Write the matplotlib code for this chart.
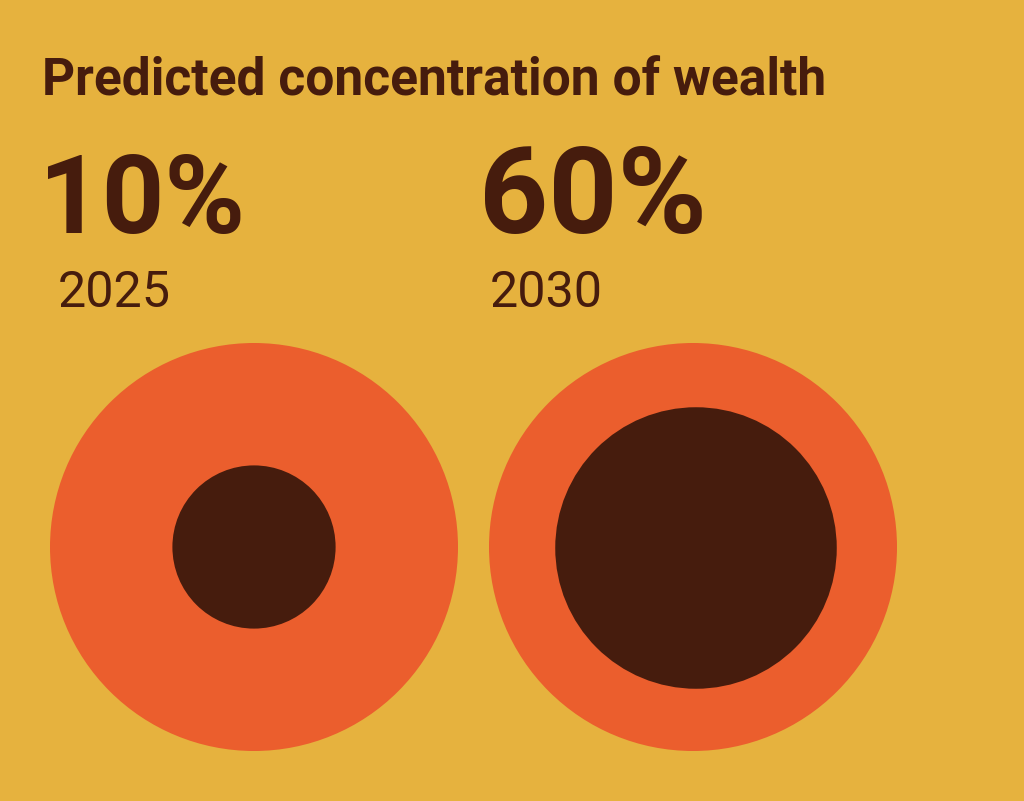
import numpy as np
import matplotlib
matplotlib.use("Agg")
import matplotlib.pyplot as plt
from matplotlib.patches import Circle

# data
years = ["2025", "2030"]
shares = [10, 60]              # % of wealth, as printed
inner_ratio = [0.40, 0.69]     # inner disc radius / outer radius
title = "Predicted concentration of wealth"

bg = "#E6B23E"
orange = "#EB5E2D"
brown = "#461C0D"

W, H = 1024, 801
fig = plt.figure(figsize=(W / 100, H / 100), dpi=100, facecolor=bg)
ax = fig.add_axes([0, 0, 1, 1])
ax.set_xlim(0, W)
ax.set_ylim(H, 0)
ax.set_aspect("equal")
ax.axis("off")
ax.set_facecolor(bg)

bold_fam = ["Roboto", "DejaVu Sans"]
reg_fam = ["Roboto", "DejaVu Sans"]

renderer = fig.canvas.get_renderer()

def fit_text(x, y, s, target_w, size, **kw):
    # scale font so the string spans target_w pixels
    t = ax.text(x, y, s, fontsize=size, va="baseline", ha="left", color=brown, **kw)
    w = t.get_window_extent(renderer).width
    t.set_fontsize(size * target_w / w)
    return t

fit_text(42, 95, title, 784, 34, family=bold_fam, fontweight="bold")

outer_r = 204
col_x = [42, 482]
for i, (yr, sh, ir) in enumerate(zip(years, shares, inner_ratio)):
    x0 = col_x[i]
    fit_text(x0 - 3, 233, f"{sh}%", 206 if i == 0 else 228, 80,
             family=bold_fam, fontweight="bold")
    fit_text(x0 + 16 if i == 0 else x0 + 8, 307, yr, 113, 36, family=reg_fam)
    cx = 254 + i * 439
    cy = 547
    ax.add_patch(Circle((cx, cy), outer_r, color=orange, lw=0))
    ax.add_patch(Circle((cx + 3 * i, cy + i), outer_r * ir, color=brown, lw=0))

fig.savefig("out.png", dpi=100, facecolor=bg)
